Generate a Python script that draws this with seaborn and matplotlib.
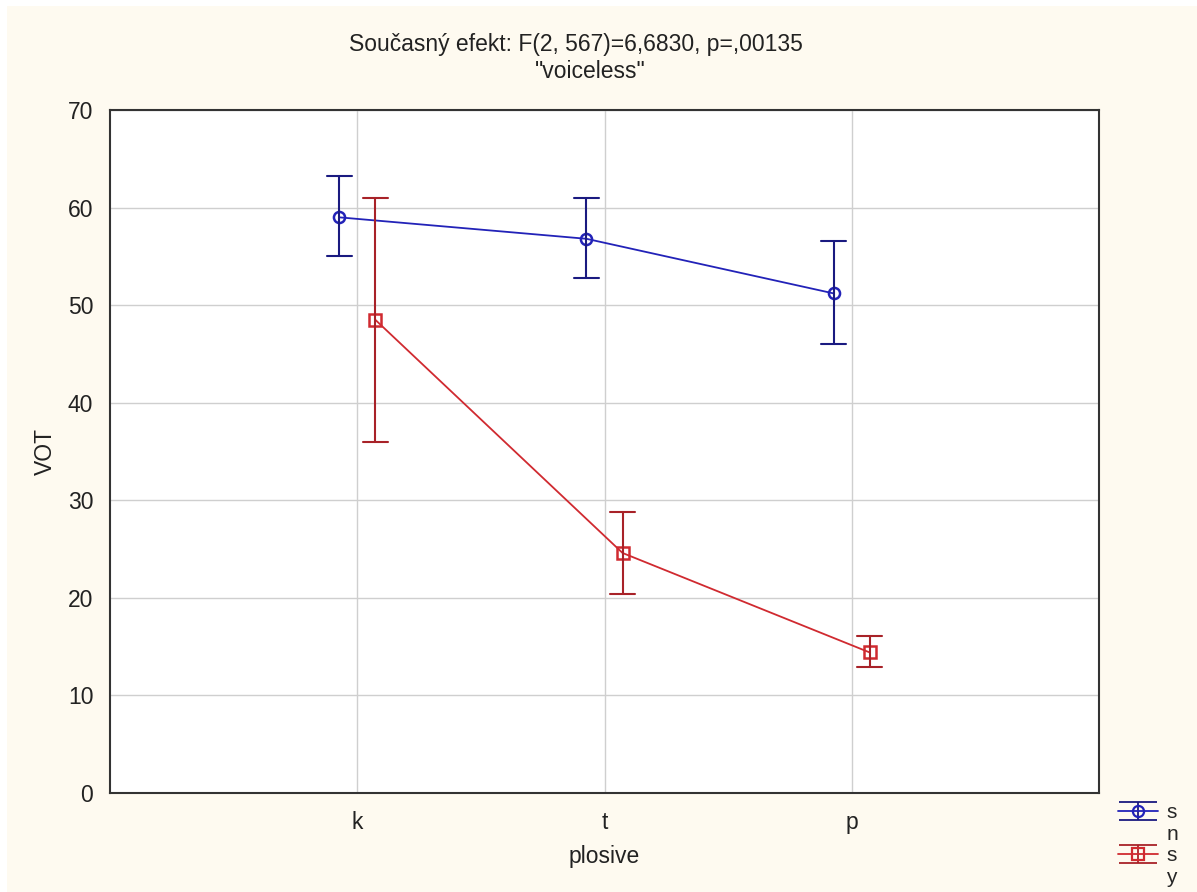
import numpy as np
import pandas as pd
import matplotlib
matplotlib.use("Agg")
import matplotlib.pyplot as plt
import seaborn as sns
from matplotlib.lines import Line2D
from matplotlib.path import Path
from matplotlib.patches import Rectangle
from matplotlib.legend_handler import HandlerTuple

# ---- data ----
plosives = ["k", "t", "p"]
groups = ["sn", "sy"]
mean_sn = [59.0, 56.8, 51.2]
low_sn = [55.0, 52.8, 46.0]
high_sn = [63.2, 61.0, 56.6]
mean_sy = [48.5, 24.6, 14.4]
low_sy = [36.0, 20.4, 12.9]
high_sy = [61.0, 28.8, 16.1]

title_line1 = "Současný efekt: F(2, 567)=6,6830, p=,00135"
title_line2 = "\"voiceless\""
yticks = [0, 10, 20, 30, 40, 50, 60, 70]

colors = {"sn": "#2222b8", "sy": "#d02a30"}
err_colors = {"sn": "#1a1a80", "sy": "#a82228"}
bg = "#fefaf0"

rows = []
for g, m, lo, hi in [("sn", mean_sn, low_sn, high_sn), ("sy", mean_sy, low_sy, high_sy)]:
    for i, p in enumerate(plosives):
        for v in (lo[i], m[i], hi[i]):
            rows.append({"plosive": p, "group": g, "VOT": v})
df = pd.DataFrame(rows)

sns.set_theme(style="white")
plt.rcParams["font.family"] = ["Liberation Sans", "DejaVu Sans"]

fig = plt.figure(figsize=(11.97, 8.92), dpi=100, facecolor="white")
fig.patches.append(Rectangle((7 / 1197, 0), 1 - 7 / 1197, 1 - 6 / 892, transform=fig.transFigure,
                             facecolor=bg, edgecolor="none", zorder=-10))
ax = fig.add_axes([110 / 1197, 1 - 793 / 892, (1099 - 110) / 1197, (793 - 110) / 892])
ax.set_facecolor("white")

sns.pointplot(
    data=df, x="plosive", y="VOT", hue="group", order=plosives, hue_order=groups,
    estimator="median", errorbar=lambda v: (v.min(), v.max()),
    palette=colors, markers=["o", "s"], dodge=0.146, capsize=0.1,
    err_kws={"linewidth": 1.5}, linewidth=1.3, markersize=8, ax=ax, legend=False,
)
col_map = {matplotlib.colors.to_hex(colors[g]): err_colors[g] for g in groups}
for ln in ax.lines:
    if ln.get_marker() not in (None, "", "None"):
        ln.set_markerfacecolor("none")
        ln.set_markeredgewidth(1.8)
    else:
        c = matplotlib.colors.to_hex(ln.get_color())
        if c in col_map:
            ln.set_color(col_map[c])

ax.set_xlim(-1, 3)
ax.set_ylim(0, 70)
ax.set_yticks(yticks)
ax.grid(True, color="#cfcfcf", linewidth=1.0)
ax.set_axisbelow(True)
for s in ax.spines.values():
    s.set_color("#333333")
    s.set_linewidth(1.5)
ax.tick_params(axis="both", direction="in", length=4, width=1, colors="#333333",
               labelsize=16.5, labelcolor="#222222")
ax.tick_params(axis="x", pad=13)
ax.tick_params(axis="y", left=False, pad=12)
ax.set_xlabel("plosive", fontsize=16.5, color="#222222", labelpad=8)
ax.set_ylabel("VOT", fontsize=16.5, color="#222222", labelpad=8)

fig.text(0.481, 1 - 45 / 892, title_line1, ha="center", va="center", fontsize=16.5, color="#222222")
fig.text(0.493, 1 - 71 / 892, title_line2, ha="center", va="center", fontsize=16.5, color="#222222")

# legend: group names written letter by letter
bars = Path([(-1, 0.45), (1, 0.45), (-1, -0.45), (1, -0.45), (0, 0.45), (0, -0.45)],
            [Path.MOVETO, Path.LINETO, Path.MOVETO, Path.LINETO, Path.MOVETO, Path.LINETO])
handles, labels = [], []
for g, mk in zip(groups, ["o", "s"]):
    h1 = Line2D([], [], color=colors[g], marker=mk, markerfacecolor="none", markersize=8,
                markeredgewidth=1.6, linewidth=1.3)
    h2 = Line2D([], [], color=err_colors[g], marker=bars, markersize=28, markeredgewidth=1.3,
                linestyle="none")
    handles.append((h2, h1))
    labels.append(g[0])
    handles.append(Line2D([], [], linestyle="none"))
    labels.append(g[1])
fig.legend(handles, labels, loc="upper left", bbox_to_anchor=(1108 / 1197, 1 - 793 / 892),
           frameon=False, fontsize=15, handlelength=1.9, handletextpad=0.4,
           labelspacing=0.12, borderpad=0, handler_map={tuple: HandlerTuple(ndivide=1)})

fig.savefig("out.png", dpi=100, facecolor="white")
